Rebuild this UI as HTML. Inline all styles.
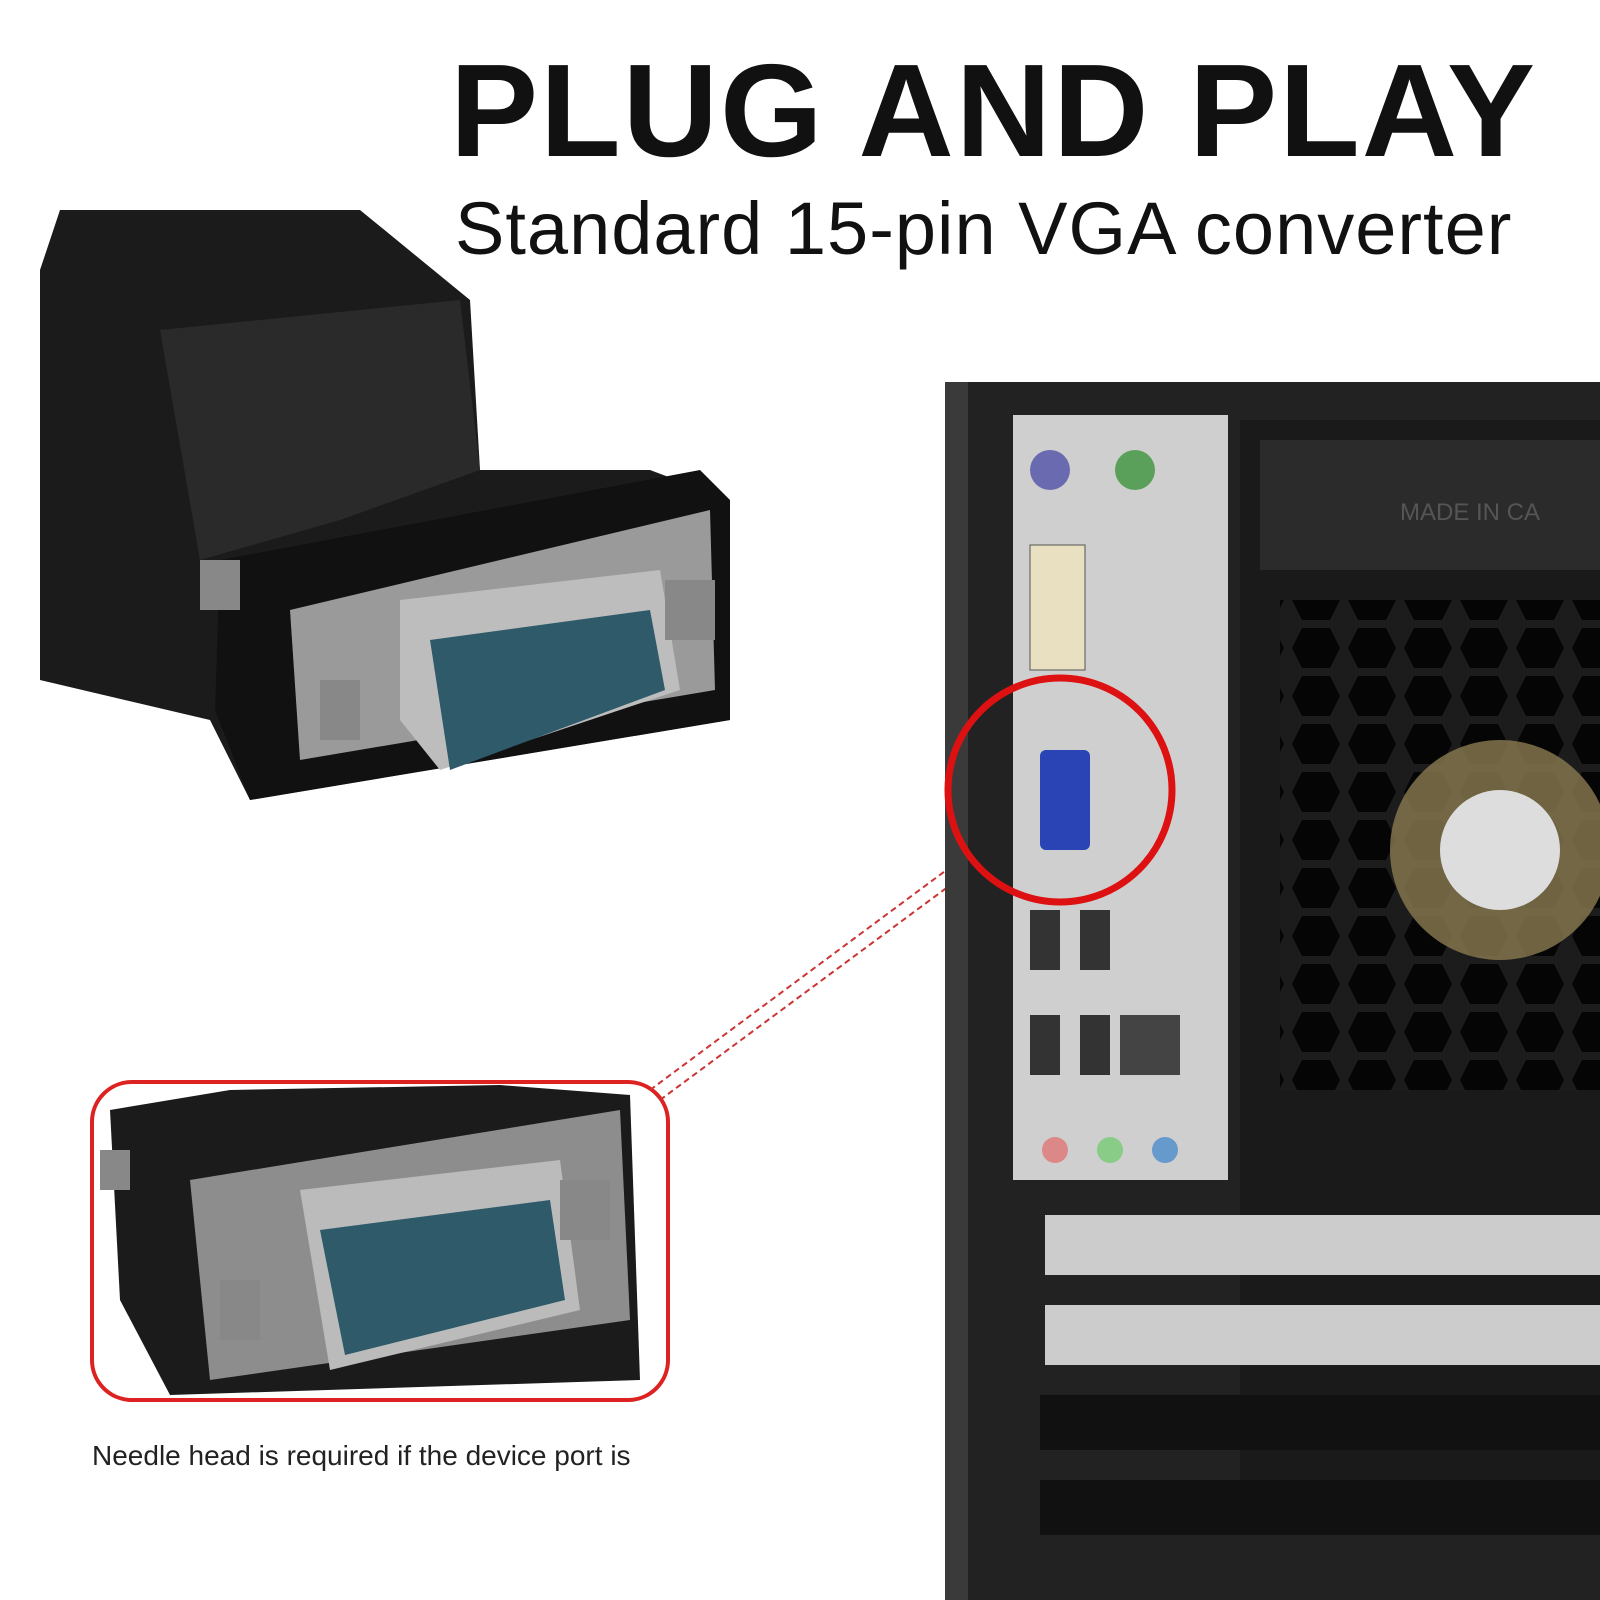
<!DOCTYPE html>
<html><head><meta charset="utf-8"><style>
html,body{margin:0;padding:0;background:#fff;}
body{width:1600px;height:1600px;position:relative;overflow:hidden;font-family:"Liberation Sans",sans-serif;}
.abs{position:absolute;}
</style></head><body>
<div class="abs" style="left:450px;top:38px;font-size:132px;font-weight:bold;color:#111;letter-spacing:2px;white-space:nowrap;line-height:1.1">PLUG AND PLAY</div>
<div class="abs" style="left:455px;top:188px;font-size:74px;color:#111;white-space:nowrap;line-height:1.1;letter-spacing:1px">Standard 15-pin VGA converter</div>

<svg class="abs" style="left:0;top:0" width="1600" height="1600">
<defs>
<pattern id="hex" width="56" height="48" patternUnits="userSpaceOnUse">
<rect width="56" height="48" fill="#1c1c1c"/>
<polygon points="14,4 42,4 52,24 42,44 14,44 4,24" fill="#050505"/>
</pattern>
</defs>
<!-- top adapter -->
<path d="M40 270 L60 210 L360 210 L470 300 L480 470 L650 470 L730 500 L730 720 L250 800 L210 720 L40 680 Z" fill="#1b1b1b"/>
<path d="M160 330 L460 300 L480 470 L340 520 L200 560 Z" fill="#2a2a2a"/>
<path d="M220 560 L700 470 L730 500 L730 720 L250 800 L215 710 Z" fill="#111"/>
<path d="M290 610 L710 510 L715 690 L300 760 Z" fill="#9a9a9a"/>
<path d="M400 600 L660 570 L680 690 L440 770 L400 720 Z" fill="#bdbdbd"/>
<path d="M430 640 L650 610 L665 690 L450 770 Z" fill="#2f5a6a"/>
<rect x="200" y="560" width="40" height="50" fill="#888"/>
<rect x="320" y="680" width="40" height="60" fill="#888"/>
<rect x="665" y="580" width="50" height="60" fill="#888"/>
<!-- bottom inset -->
<rect x="92" y="1082" width="576" height="318" rx="40" fill="none" stroke="#d22" stroke-width="4"/>
<path d="M110 1110 L230 1090 L500 1085 L630 1095 L640 1380 L170 1395 L120 1300 Z" fill="#1b1b1b"/>
<path d="M190 1180 L620 1110 L630 1320 L210 1380 Z" fill="#8d8d8d"/>
<path d="M300 1190 L560 1160 L580 1310 L330 1370 Z" fill="#bbb"/>
<path d="M320 1230 L550 1200 L565 1300 L345 1355 Z" fill="#2f5a6a"/>
<rect x="100" y="1150" width="30" height="40" fill="#888"/>
<rect x="220" y="1280" width="40" height="60" fill="#888"/>
<rect x="560" y="1180" width="50" height="60" fill="#888"/>
<!-- dashed lines -->
<line x1="650" y1="1090" x2="960" y2="860" stroke="#c33" stroke-width="2" stroke-dasharray="6,4"/>
<line x1="660" y1="1100" x2="968" y2="872" stroke="#c33" stroke-width="2" stroke-dasharray="6,4"/>
<!-- PC case -->
<rect x="945" y="382" width="25" height="1218" fill="#3a3a3a"/>
<rect x="968" y="382" width="632" height="1218" fill="#222"/>
<rect x="1240" y="420" width="360" height="1100" fill="#1a1a1a"/>
<rect x="1260" y="440" width="340" height="130" fill="#2b2b2b"/>
<text x="1400" y="520" font-size="24" fill="#555">MADE IN CA</text>
<rect x="1280" y="600" width="320" height="490" fill="url(#hex)"/>
<circle cx="1500" cy="850" r="110" fill="#8a7a50" opacity="0.8"/>
<circle cx="1500" cy="850" r="60" fill="#ddd"/>
<!-- IO plate -->
<rect x="1013" y="415" width="215" height="765" fill="#cfcfcf"/>
<circle cx="1050" cy="470" r="20" fill="#6a6ab0"/>
<circle cx="1135" cy="470" r="20" fill="#5aa05a"/>
<rect x="1030" y="545" width="55" height="125" fill="#e8e0c0" stroke="#555"/>
<rect x="1040" y="750" width="50" height="100" rx="6" fill="#2a43b5"/>
<rect x="1030" y="910" width="30" height="60" fill="#333"/>
<rect x="1080" y="910" width="30" height="60" fill="#333"/>
<rect x="1030" y="1015" width="30" height="60" fill="#333"/>
<rect x="1080" y="1015" width="30" height="60" fill="#333"/>
<rect x="1120" y="1015" width="60" height="60" fill="#444"/>
<circle cx="1055" cy="1150" r="13" fill="#d88"/>
<circle cx="1110" cy="1150" r="13" fill="#8c8"/>
<circle cx="1165" cy="1150" r="13" fill="#69c"/>
<!-- slots -->
<rect x="1045" y="1215" width="555" height="60" fill="#ccc"/>
<rect x="1045" y="1305" width="555" height="60" fill="#ccc"/>
<rect x="1040" y="1395" width="560" height="55" fill="#111"/>
<rect x="1040" y="1480" width="560" height="55" fill="#111"/>
<!-- red circle -->
<circle cx="1060" cy="790" r="112" fill="none" stroke="#d11" stroke-width="7"/>
</svg>

<div class="abs" style="left:92px;top:1440px;font-size:28px;color:#222;white-space:nowrap">Needle head is required if the device port is</div>
</body></html>
